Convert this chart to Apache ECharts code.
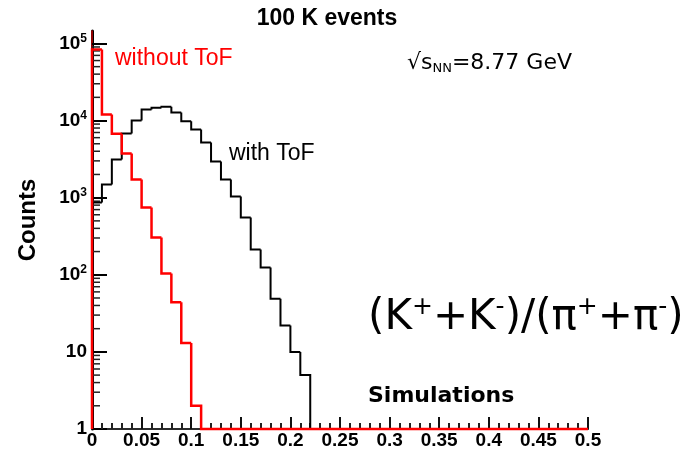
<!DOCTYPE html>
<html>
<head>
<meta charset="utf-8">
<script src="https://cdn.jsdelivr.net/npm/echarts@6/dist/echarts.min.js"></script>
<style>
  html, body { margin: 0; padding: 0; background: #ffffff; }
  #chart { width: 700px; height: 450px; }
</style>
</head>
<body>
<div id="chart"></div>
<script>
// Histogram binning of the (K+ + K-)/(pi+ + pi-) ratio
const binWidth = 0.01;

// With ToF: lower bin edges and counts
const withTofEdges = [0.00, 0.01, 0.02, 0.03, 0.04, 0.05, 0.06, 0.07, 0.08, 0.09, 0.10,
                      0.11, 0.12, 0.13, 0.14, 0.15, 0.16, 0.17, 0.18, 0.19, 0.20, 0.21];
const withTofCounts = [865, 1480, 3125, 6790, 10000, 13900, 14640, 15100, 12700, 9800, 7650,
                       5190, 2940, 1720, 1035, 552, 212, 124, 49, 22, 10, 5];

// Without ToF: lower bin edges and counts
const withoutTofEdges = [0.00, 0.01, 0.02, 0.03, 0.04, 0.05, 0.06, 0.07, 0.08, 0.09, 0.10];
const withoutTofCounts = [83600, 12000, 6730, 3740, 1720, 745, 304, 104, 44, 13, 2];

// Axis labels
const xTickLabels = ['0', '0.05', '0.1', '0.15', '0.2', '0.25', '0.3', '0.35', '0.4', '0.45', '0.5'];
const yDecades = [1, 10, 100, 1000, 10000, 100000];
const yDecadeLabels = ['1', '10', '{b|10}{s|2}', '{b|10}{s|3}', '{b|10}{s|4}', '{b|10}{s|5}'];

const xMin = 0, xMax = 0.5, xStep = 0.05;
const yMin = 1, yMax = 145000;

// Minor log ticks: 2..9 in every decade
const yMinorTicks = [];
yDecades.forEach(d => {
  for (let m = 2; m <= 9; m++) {
    const v = d * m;
    if (v < yMax) yMinorTicks.push([0, v]);
  }
});

function histItems(edges, counts) {
  return edges.map((e, i) => [e, counts[i], i > 0 ? counts[i - 1] : 0, i === edges.length - 1 ? 1 : 0]);
}

function stepRenderer(color, width, runToEdge) {
  return function (params, api) {
    const cs = params.coordSys;
    const bottom = cs.y + cs.height;
    const x0 = api.value(0), c = api.value(1), p = api.value(2), last = api.value(3);
    const a = api.coord([x0, c]);
    const b = api.coord([x0 + binWidth, c]);
    const yPrev = p > 0 ? api.coord([x0, p])[1] : bottom;
    const pts = [[a[0], yPrev], [a[0], a[1]], [b[0], b[1]]];
    if (last) {
      pts.push([b[0], bottom]);
      if (runToEdge) pts.push([cs.x + cs.width, bottom]);
    }
    return {
      type: 'polyline',
      shape: { points: pts },
      style: { stroke: color, lineWidth: width, fill: null, lineJoin: 'miter' }
    };
  };
}

const chart = echarts.init(document.getElementById('chart'), null, { renderer: 'canvas' });

const helv = '"Liberation Sans", Arial, sans-serif';
const verd = '"DejaVu Sans", sans-serif';
const font = (w, s, fam) => w + ' ' + s + 'px ' + fam;

chart.setOption({
  backgroundColor: '#ffffff',
  animation: false,
  grid: { left: 92, right: 112, top: 31, bottom: 21 },
  xAxis: [{
    type: 'value',
    min: xMin, max: xMax, interval: xStep,
    axisLine: { show: true, onZero: false, lineStyle: { color: '#1a1a1a', width: 2 } },
    axisTick: { show: true, inside: true, length: 12, lineStyle: { color: '#111', width: 2 } },
    minorTick: { show: true, splitNumber: 5, length: 6, lineStyle: { color: '#222', width: 2 } },
    splitLine: { show: false },
    axisLabel: {
      margin: 2,
      color: '#000',
      fontFamily: helv,
      fontWeight: 'bold',
      fontSize: 19,
      formatter: v => xTickLabels[Math.round(v / xStep)]
    }
  }, {
    type: 'value', position: 'top',
    min: xMin, max: xMax,
    axisLine: { show: true, lineStyle: { color: '#333', width: 1.5 } },
    axisTick: { show: false }, axisLabel: { show: false }, splitLine: { show: false }
  }],
  yAxis: [{
    type: 'log', logBase: 10,
    min: yMin, max: yMax,
    axisLine: { show: true, onZero: false, lineStyle: { color: '#000', width: 3 } },
    axisTick: { show: true, inside: true, length: 15, lineStyle: { color: '#000', width: 2 } },
    splitLine: { show: false },
    axisLabel: {
      margin: 5,
      color: '#000',
      showMaxLabel: false,
      fontFamily: helv,
      fontWeight: 'bold',
      fontSize: 19,
      formatter: v => {
        const i = yDecades.findIndex(d => Math.abs(d - v) / d < 1e-6);
        return i >= 0 ? yDecadeLabels[i] : '';
      },
      rich: {
        b: { fontSize: 19, fontWeight: 'bold', fontFamily: helv, color: '#000' },
        s: { fontSize: 12, fontWeight: 'bold', fontFamily: helv, color: '#000',
             verticalAlign: 'bottom', padding: [0, 0, 10, 0] }
      }
    }
  }, {
    type: 'value', position: 'right',
    min: 0, max: 1,
    axisLine: { show: true, lineStyle: { color: '#c00000', width: 1.5 } },
    axisTick: { show: false }, axisLabel: { show: false }, splitLine: { show: false }
  }],
  series: [{
    type: 'custom',
    name: 'minor ticks',
    silent: true,
    coordinateSystem: 'cartesian2d',
    encode: { x: 0, y: 1 },
    data: yMinorTicks,
    renderItem: (params, api) => {
      const p = api.coord([api.value(0), api.value(1)]);
      return {
        type: 'line',
        shape: { x1: p[0], y1: p[1], x2: p[0] + 8, y2: p[1] },
        style: { stroke: '#222', lineWidth: 1.5 }
      };
    }
  }, {
    type: 'custom',
    name: 'with ToF',
    silent: true,
    coordinateSystem: 'cartesian2d',
    encode: { x: 0, y: 1 },
    data: histItems(withTofEdges, withTofCounts),
    renderItem: stepRenderer('#000000', 2, false),
    z: 3
  }, {
    type: 'custom',
    name: 'without ToF',
    silent: true,
    coordinateSystem: 'cartesian2d',
    encode: { x: 0, y: 1 },
    data: histItems(withoutTofEdges, withoutTofCounts),
    renderItem: stepRenderer('#ff0000', 2.5, true),
    z: 4
  }],
  graphic: [{
    type: 'text', x: 327, y: 19,
    style: { text: '100 K events', font: font('bold', 23, helv),
             fill: '#000', textAlign: 'center', textVerticalAlign: 'middle' }
  }, {
    type: 'text', x: 28, y: 220, rotation: Math.PI / 2,
    style: { text: 'Counts', font: font('bold', 24, helv),
             fill: '#000', textAlign: 'center', textVerticalAlign: 'middle' }
  }, {
    type: 'text', x: 115, y: 59,
    style: { text: 'without ToF', font: font('normal', 23, helv),
             fill: '#ff0000', textAlign: 'left', textVerticalAlign: 'middle' }
  }, {
    type: 'text', x: 229, y: 154,
    style: { text: 'with ToF', font: font('normal', 23, helv),
             fill: '#000', textAlign: 'left', textVerticalAlign: 'middle' }
  }, {
    type: 'text', x: 407, y: 63,
    style: {
      text: '{n|\u221As}{sub|NN}{n|=8.77 GeV}',
      fill: '#000', textAlign: 'left', textVerticalAlign: 'middle',
      rich: {
        n: { font: font('normal', 22, verd), fill: '#000' },
        sub: { font: font('normal', 13, verd), fill: '#000',
               verticalAlign: 'top', padding: [12, 0, 0, 0] }
      }
    }
  }, {
    type: 'text', x: 368, y: 318,
    style: {
      text: '{n|(K}{sup|+}{n|+K}{sup|-}{n|)/(\u03C0}{sup|+}{n|+\u03C0}{sup|-}{n|)}',
      fill: '#000', textAlign: 'left', textVerticalAlign: 'middle',
      rich: {
        n: { font: font('normal', 42, verd), fill: '#000' },
        sup: { font: font('normal', 25, verd), fill: '#000',
               verticalAlign: 'bottom', padding: [0, 0, 22, 0] }
      }
    }
  }, {
    type: 'text', x: 368, y: 396,
    style: { text: 'Simulations', font: font('bold', 22, verd),
             fill: '#000', textAlign: 'left', textVerticalAlign: 'middle' }
  }]
});
</script>
</body>
</html>
